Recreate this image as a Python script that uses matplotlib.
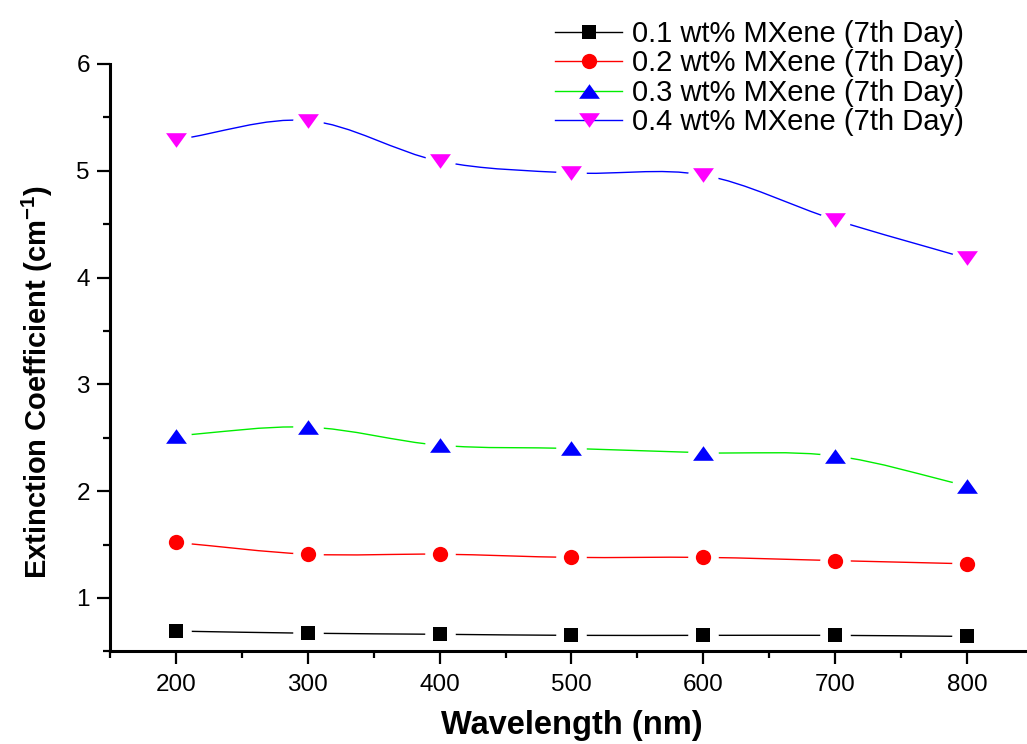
import numpy as np
import matplotlib
matplotlib.use("Agg")
import matplotlib.pyplot as plt
from matplotlib.path import Path
from matplotlib.patches import PathPatch
from matplotlib.lines import Line2D
from matplotlib.ticker import MultipleLocator

plt.rcParams['font.family'] = ['Liberation Sans', 'DejaVu Sans']
plt.rcParams['mathtext.fontset'] = 'custom'
plt.rcParams['mathtext.rm'] = 'Liberation Sans'
plt.rcParams['mathtext.bf'] = 'Liberation Sans:bold'

# wavelength (nm)
wavelength = [200, 300, 400, 500, 600, 700, 800]

# extinction coefficient (cm^-1), 7th day
ext_01 = [0.69, 0.67, 0.66, 0.65, 0.65, 0.65, 0.64]
ext_02 = [1.52, 1.41, 1.41, 1.38, 1.38, 1.35, 1.32]
ext_03 = [2.52, 2.60, 2.43, 2.40, 2.36, 2.33, 2.05]
ext_04 = [5.29, 5.47, 5.09, 4.98, 4.96, 4.54, 4.18]

labels = ["0.1 wt% MXene (7th Day)", "0.2 wt% MXene (7th Day)",
          "0.3 wt% MXene (7th Day)", "0.4 wt% MXene (7th Day)"]

# Origin style triangles (wider than tall)
tri_up = [(-1, -0.7), (1, -0.7), (0, 0.7), (-1, -0.7)]
tri_down = [(-1, 0.7), (1, 0.7), (0, -0.7), (-1, 0.7)]

styles = [
    dict(line="black", face="black", marker="s", ms=10),
    dict(line="red", face="red", marker="o", ms=11),
    dict(line="#00ee00", face="blue", marker=tri_up, ms=15),
    dict(line="blue", face="magenta", marker=tri_down, ms=15),
]


def smooth_path(x, y):
    # Catmull-Rom curve through the points, as cubic bezier segments
    x = np.asarray(x, float)
    y = np.asarray(y, float)
    dx = np.gradient(x)
    dy = np.gradient(y)
    verts = [(x[0], y[0])]
    codes = [Path.MOVETO]
    for i in range(len(x) - 1):
        verts += [(x[i] + dx[i] / 3, y[i] + dy[i] / 3),
                  (x[i + 1] - dx[i + 1] / 3, y[i + 1] - dy[i + 1] / 3),
                  (x[i + 1], y[i + 1])]
        codes += [Path.CURVE4] * 3
    return Path(verts, codes)


fig = plt.figure(figsize=(10.27, 7.44), dpi=100)
ax = fig.add_axes([0.1071, 0.1245, 0.8987, 0.7895])

handles = []
for ys, st, lab in zip([ext_01, ext_02, ext_03, ext_04], styles, labels):
    ax.add_patch(PathPatch(smooth_path(wavelength, ys), facecolor="none",
                           edgecolor=st["line"], lw=1.0, zorder=2))
    # white halo gives the gap between line and symbol
    ax.plot(wavelength, ys, linestyle="none", marker="o", ms=22,
            mfc="white", mew=0, zorder=2.2)
    ax.plot(wavelength, ys, linestyle="none", marker=st["marker"], ms=st["ms"],
            mfc=st["face"], mew=0, zorder=3)
    handles.append(Line2D([], [], color=st["line"], lw=1.0, marker=st["marker"],
                          ms=st["ms"], mfc=st["face"], mew=0))

ax.set_xlim(150, 850)
ax.set_ylim(0.5, 6)
ax.xaxis.set_major_locator(MultipleLocator(100))
ax.xaxis.set_minor_locator(MultipleLocator(50))
ax.yaxis.set_major_locator(MultipleLocator(1))
ax.yaxis.set_minor_locator(MultipleLocator(0.5))

ax.spines["top"].set_visible(False)
ax.spines["right"].set_visible(False)
for s in ["left", "bottom"]:
    ax.spines[s].set_linewidth(2.2)
ax.tick_params(which="major", direction="out", length=9.5, width=1.6,
               labelsize=17.5, pad=5)
ax.tick_params(axis="x", which="major", pad=6.5)
ax.tick_params(which="minor", direction="out", length=5, width=1.6)

ax.set_xlabel("Wavelength (nm)", fontsize=23.5, fontweight="bold", va="center")
ax.xaxis.set_label_coords(0.5, -0.127)
ax.set_ylabel(r"Extinction Coefficient (cm$^{\mathbf{-1}}$)", fontsize=21,
              fontweight="bold", va="center")
ax.yaxis.set_label_coords(-0.079, 0.459)

ax.legend(handles, labels, loc="upper left", bbox_to_anchor=(555 / 1027, 1 - 20 / 744),
          bbox_transform=fig.transFigure, frameon=False, fontsize=21,
          handlelength=2.3, handletextpad=0.33, borderpad=0, borderaxespad=0,
          labelspacing=0.05)

fig.savefig("out.png", dpi=100, facecolor="white")
